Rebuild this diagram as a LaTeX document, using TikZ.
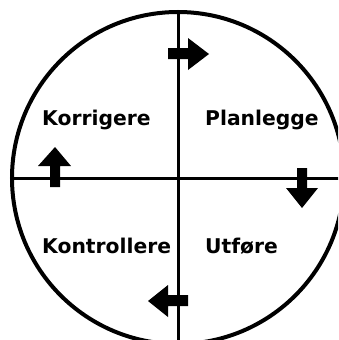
\documentclass[tikz,border=0pt]{standalone}
\usepackage{fontspec}
\setmainfont{DejaVu Sans}
\begin{document}
\begin{tikzpicture}[x=1pt,y=-1pt,
  lbl/.style={anchor=base west,inner sep=0pt,font=\fontsize{20.3}{20.3}\selectfont\bfseries},
  arr/.style={fill=black,draw=none}]
\useasboundingbox (0,0) rectangle (338,340);
\clip (0,0) rectangle (338,340);
\coordinate (c) at (178,178);
\draw[line width=4pt] (c) circle[radius=166];
\coordinate (top) at (178,10);
\coordinate (bot) at (178,342);
\coordinate (lft) at (12,178);
\coordinate (rgt) at (340,178);
\draw[line width=3pt] (top) -- (bot);
\draw[line width=3pt] (lft) -- (rgt);
% arrows
\fill[arr] (168,48) -- (188,48) -- (188,38) -- (209,54) -- (188,70) -- (188,59) -- (168,59) -- cycle;
\fill[arr] (297,168) -- (307,168) -- (307,188) -- (318,188) -- (302,208) -- (286,188) -- (297,188) -- cycle;
\fill[arr] (50,187) -- (60,187) -- (60,166) -- (71,166) -- (55,147) -- (38,166) -- (50,166) -- cycle;
\fill[arr] (188,295) -- (188,306) -- (168,306) -- (168,317) -- (148,301) -- (168,285) -- (168,295) -- cycle;
\node[lbl] (k) at (42,125) {Korrigere};
\node[lbl] (p) at (205,125) {Planlegge};
\node[lbl] (ko) at (42,253) {Kontrollere};
\node[lbl] (u) at (205,253) {Utføre};
\end{tikzpicture}
\end{document}
